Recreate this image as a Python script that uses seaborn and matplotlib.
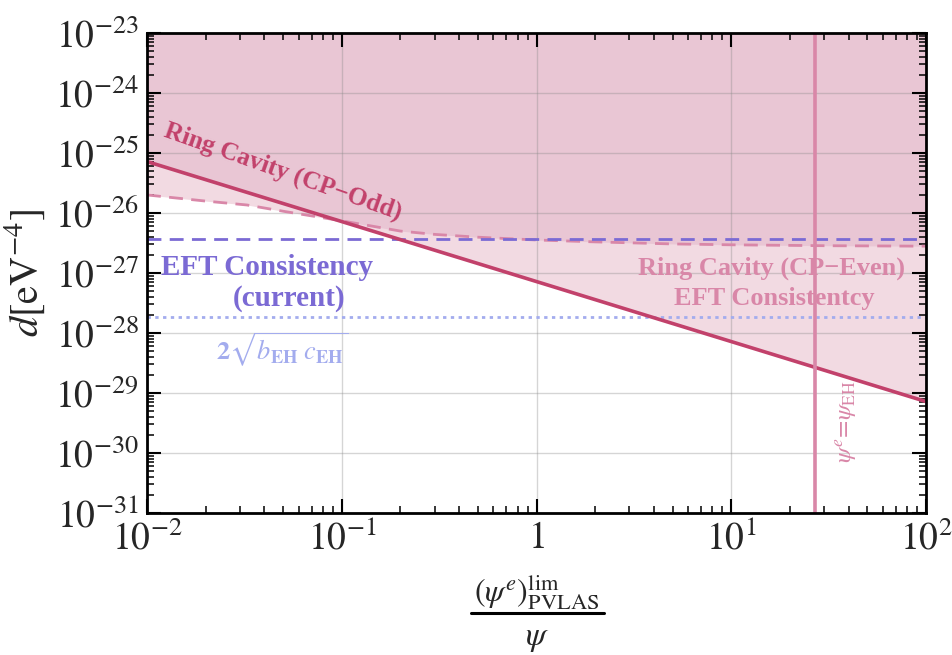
import numpy as np
import pandas as pd
import matplotlib
matplotlib.use("Agg")
import matplotlib.pyplot as plt
import matplotlib.ticker as mticker
from matplotlib.lines import Line2D
import seaborn as sns

# ---------------- data ----------------
odd_x = [1e-2, 1e2]
odd_y = [7.2e-26, 7.2e-30]          # Ring Cavity (CP-Odd)

even_x = [0.01, 0.02, 0.0326, 0.05, 0.1, 0.2, 0.3, 0.5, 1.0, 2.0, 5.0, 10.0, 30.0, 100.0]
even_y = [2.0e-26, 1.58e-26, 1.36e-26, 1.07e-26, 7.4e-27, 5.0e-27, 4.4e-27,
          3.95e-27, 3.55e-27, 3.3e-27, 3.05e-27, 2.95e-27, 2.85e-27, 2.8e-27]  # CP-Even

eft_current = 3.63e-27
eft_bc = 1.86e-28
psi_eh_x = 26.9

y_top = 1e-23
xticks = [1e-2, 1e-1, 1, 1e1, 1e2]
xtick_labels = [r"$10^{-2}$", r"$10^{-1}$", r"$1$", r"$10^{1}$", r"$10^{2}$"]
yticks = [10.0**k for k in range(-31, -22)]
ytick_labels = [r"$10^{%d}$" % k for k in range(-31, -22)]

# ---------------- style ----------------
sns.set_theme(style="white")
plt.rcParams["font.family"] = ["Liberation Serif", "DejaVu Serif"]
plt.rcParams["mathtext.fontset"] = "stix"

c_odd = "#c2416b"
c_even = "#d987a8"
c_eft = "#7b6ad4"
c_bc = "#a3acee"
c_light = "#f2dae2"
c_dark = "#e9c6d4"

fig = plt.figure(figsize=(9.52, 6.55), dpi=100)
ax = fig.add_axes([147 / 952, 1 - 513 / 655, 779 / 952, 480 / 655])
ax.set_xscale("log")
ax.set_yscale("log")

# common grid for filled regions (in log space)
lx = np.log10(even_x)
odd_on_grid = 10 ** np.interp(lx, np.log10(odd_x), np.log10(odd_y))
even_arr = np.array(even_y)
ax.fill_between(even_x, odd_on_grid, y_top, color=c_light, lw=0, zorder=1)
ax.fill_between(even_x, even_arr, y_top, color=c_light, lw=0, zorder=1)
ax.fill_between(even_x, np.maximum(odd_on_grid, even_arr), y_top, color=c_dark, lw=0, zorder=1.1)

df_odd = pd.DataFrame({"x": odd_x, "y": odd_y})
df_even = pd.DataFrame({"x": even_x, "y": even_y})
df_eft = pd.DataFrame({"x": [1e-2, 1e2], "y": [eft_current, eft_current]})
df_bc = pd.DataFrame({"x": [1e-2, 1e2], "y": [eft_bc, eft_bc]})

sns.lineplot(data=df_even, x="x", y="y", ax=ax, color=c_even, lw=2.0,
             linestyle=(0, (5, 3)), zorder=3)
sns.lineplot(data=df_eft, x="x", y="y", ax=ax, color=c_eft, lw=2.0,
             linestyle=(0, (5, 3)), zorder=3)
sns.lineplot(data=df_bc, x="x", y="y", ax=ax, color=c_bc, lw=2.0,
             linestyle=(0, (1.2, 1.6)), zorder=3)
sns.lineplot(data=df_odd, x="x", y="y", ax=ax, color=c_odd, lw=2.6, zorder=4)
ax.axvline(psi_eh_x, color=c_even, lw=2.6, zorder=4)

ax.set_xlim(1e-2, 1e2)
ax.set_ylim(1e-31, y_top)

# ticks
ax.set_xticks(xticks)
ax.set_xticklabels(xtick_labels)
ax.set_yticks(yticks)
ax.set_yticklabels(ytick_labels)
ax.xaxis.set_minor_locator(mticker.LogLocator(base=10, subs=np.arange(2, 10), numticks=20))
ax.yaxis.set_minor_locator(mticker.LogLocator(base=10, subs=np.arange(2, 10), numticks=30))
ax.xaxis.set_minor_formatter(mticker.NullFormatter())
ax.yaxis.set_minor_formatter(mticker.NullFormatter())
ax.tick_params(which="both", direction="in", top=True, right=True, bottom=True, left=True,
               color="black")
ax.tick_params(which="major", length=10, width=1.5, labelsize=27, pad=6)
ax.tick_params(which="minor", length=5, width=1.1)
ax.grid(True, which="major", color="#888888", alpha=0.35, lw=1.0, zorder=2)
ax.set_axisbelow(False)
for s in ax.spines.values():
    s.set_color("black")
    s.set_linewidth(2.0)
    s.set_zorder(6)

ax.set_xlabel("")
ax.set_ylabel(r"$d[\mathrm{eV}^{-4}]$", fontsize=29, labelpad=6)

# x-axis label drawn as a stacked fraction
fig.text(537 / 952, 1 - 592 / 655, r"$(\psi^{e})^{\rm lim}_{\rm PVLAS}$", fontsize=23,
         ha="center", va="center")
fig.add_artist(Line2D([471 / 952, 604 / 952], [1 - 613 / 655, 1 - 613 / 655],
                      transform=fig.transFigure, color="black", lw=2.2))
fig.text(537 / 952, 1 - 639 / 655, r"$\psi$", fontsize=24, ha="center", va="center")

# annotations (axes-fraction positions)
def af(px, py):
    return ((px - 147) / 779, 1 - (py - 33) / 480)

ax.text(*af(283, 172), "Ring Cavity (CP\u2212Odd)", transform=ax.transAxes, color=c_odd,
        fontsize=18.3, fontweight="bold", rotation=-19.5, ha="center", va="center", zorder=5)
ax.text(*af(267, 268), "EFT Consistency", transform=ax.transAxes, color=c_eft,
        fontsize=21, fontweight="bold", ha="center", va="center", zorder=5)
ax.text(*af(289, 298), "(current)", transform=ax.transAxes, color=c_eft,
        fontsize=21, fontweight="bold", ha="center", va="center", zorder=5)
ax.text(*af(771, 268), "Ring Cavity (CP\u2212Even)", transform=ax.transAxes, color=c_even,
        fontsize=19, fontweight="bold", ha="center", va="center", zorder=5)
ax.text(*af(774, 298), "EFT Consistentcy", transform=ax.transAxes, color=c_even,
        fontsize=19, fontweight="bold", ha="center", va="center", zorder=5)
ax.text(*af(282, 350), r"$\mathbf{2}\sqrt{\mathit{b}_{\mathbf{EH}}\;\mathit{c}_{\mathbf{EH}}}$",
        transform=ax.transAxes, color=c_bc, fontsize=19, ha="center", va="center", zorder=5)
ax.text(*af(847, 422), r"$\psi^{e}\!=\!\psi_{\rm EH}$", transform=ax.transAxes, color=c_even,
        fontsize=18, rotation=90, ha="center", va="center", zorder=5)

fig.savefig("out.png", dpi=100)
